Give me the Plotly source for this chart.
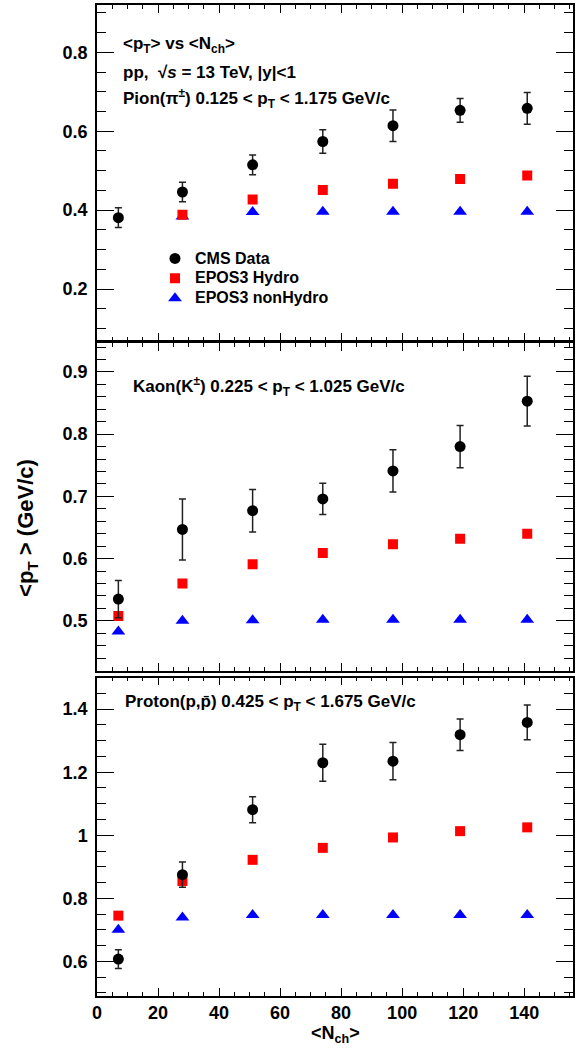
import plotly.graph_objects as go

# <Nch> bins
nch = [7, 28, 51, 74, 97, 119, 141]

# Pions
pion_cms = [0.381, 0.446, 0.515, 0.574, 0.614, 0.653, 0.658]
pion_cms_err = [0.025, 0.025, 0.025, 0.030, 0.040, 0.030, 0.040]
pion_hydro = [None, 0.388, 0.427, 0.451, 0.467, 0.479, 0.488]
pion_nonhydro = [None, 0.384, 0.395, 0.396, 0.396, 0.396, 0.396]

# Kaons
kaon_cms = [0.535, 0.647, 0.677, 0.696, 0.741, 0.780, 0.853]
kaon_cms_err = [0.030, 0.049, 0.034, 0.025, 0.034, 0.034, 0.040]
kaon_hydro = [0.508, 0.560, 0.591, 0.609, 0.623, 0.632, 0.640]
kaon_nonhydro = [0.483, 0.500, 0.501, 0.502, 0.502, 0.502, 0.502]

# Protons
proton_cms = [0.607, 0.875, 1.081, 1.230, 1.235, 1.319, 1.358]
proton_cms_err = [0.030, 0.040, 0.041, 0.059, 0.059, 0.050, 0.055]
proton_hydro = [0.745, 0.855, 0.922, 0.960, 0.993, 1.013, 1.025]
proton_nonhydro = [0.700, 0.739, 0.747, 0.747, 0.747, 0.747, 0.747]

series_names = ["CMS Data", "EPOS3 Hydro", "EPOS3 nonHydro"]

W, H = 583, 1055
ML, MR, MT, MB = 97, 10, 3, 59
PW = W - ML - MR
PH = H - MT - MB


def fx(px):
    return (px - ML) / PW


def fy(py):
    return (H - MB - py) / PH


def legend_label(name):
    # larger glyphs than the legend's own row spacing font
    return "<span style='font-size:16px'>" + name + "</span>"


FONT = "Liberation Sans, Arial, Helvetica, sans-serif"

fig = go.Figure()

panels = [
    (pion_cms, pion_cms_err, pion_hydro, pion_nonhydro, "x", "y"),
    (kaon_cms, kaon_cms_err, kaon_hydro, kaon_nonhydro, "x2", "y2"),
    (proton_cms, proton_cms_err, proton_hydro, proton_nonhydro, "x3", "y3"),
]

for i, (cms, err, hyd, nonh, xa, ya) in enumerate(panels):
    show = i == 0
    fig.add_trace(go.Scatter(
        x=nch, y=nonh, mode="markers", name=legend_label(series_names[2]),
        marker=dict(symbol="triangle-up", size=12, color="#0000ff"),
        xaxis=xa, yaxis=ya, showlegend=show, legendrank=3))
    fig.add_trace(go.Scatter(
        x=nch, y=hyd, mode="markers", name=legend_label(series_names[1]),
        marker=dict(symbol="square", size=10, color="#ff0000"),
        xaxis=xa, yaxis=ya, showlegend=show, legendrank=2))
    fig.add_trace(go.Scatter(
        x=nch, y=cms, mode="markers", name=legend_label(series_names[0]),
        marker=dict(symbol="circle", size=11, color="black"),
        error_y=dict(type="data", array=err, visible=True, color="#222222",
                     thickness=1.5, width=3.5),
        xaxis=xa, yaxis=ya, showlegend=show, legendrank=1))

tickfont = dict(family=FONT, size=18, color="black", weight="bold")

xcommon = dict(range=[0, 156], dtick=20, ticks="inside", ticklen=8, tickwidth=1,
               tickcolor="black", showline=True, linecolor="black", linewidth=1.5,
               mirror="ticks", showgrid=False, zeroline=False, tickfont=tickfont,
               minor=dict(dtick=5, ticks="inside", ticklen=4, tickcolor="black",
                          tickwidth=1, showgrid=False))

ycommon = dict(ticks="inside", ticklen=17, tickwidth=1, tickcolor="black",
               showline=True, linecolor="black", linewidth=1.5, mirror="ticks",
               showgrid=False, zeroline=False, tickfont=tickfont,
               ticklabelstandoff=4)

dom1 = [fy(339), 1.0]
dom2 = [fy(670), fy(342)]
dom3 = [0.0, fy(677)]

fig.update_layout(
    width=W, height=H,
    margin=dict(l=ML, r=MR, t=MT, b=MB),
    paper_bgcolor="white", plot_bgcolor="white",
    font=dict(family=FONT, color="black"),
    xaxis=dict(xcommon, anchor="y", showticklabels=False),
    xaxis2=dict(xcommon, anchor="y2", showticklabels=False, matches="x"),
    xaxis3=dict(xcommon, anchor="y3", matches="x"),
    yaxis=dict(ycommon, domain=dom1, range=[0.07, 0.92], dtick=0.2, anchor="x",
               minor=dict(dtick=0.05, ticks="inside", ticklen=9, tickcolor="black",
                          tickwidth=1, showgrid=False)),
    yaxis2=dict(ycommon, domain=dom2, range=[0.42, 0.946], dtick=0.1, anchor="x2",
                minor=dict(dtick=0.02, ticks="inside", ticklen=9, tickcolor="black",
                           tickwidth=1, showgrid=False)),
    yaxis3=dict(ycommon, domain=dom3, range=[0.49, 1.5], dtick=0.2, anchor="x3",
                minor=dict(dtick=0.05, ticks="inside", ticklen=9, tickcolor="black",
                           tickwidth=1, showgrid=False)),
    legend=dict(x=fx(155), y=fy(242), xanchor="left", yanchor="top",
                bgcolor="rgba(0,0,0,0)", borderwidth=0, tracegroupgap=0,
                font=dict(family=FONT, size=13, color="black", weight="bold")),
)

afont = dict(family=FONT, size=17, color="black", weight="bold")
texts = [
    ("&lt;p<sub>T</sub>&gt; vs &lt;N<sub>ch</sub>&gt;", 121, 43),
    ("pp,  √<i>s</i> = 13 TeV, |y|&lt;1", 121, 71),
    ("Pion(π<sup>±</sup>) 0.125 &lt; p<sub>T</sub> &lt; 1.175 GeV/c", 121, 97),
    ("Kaon(K<sup>±</sup>) 0.225 &lt; p<sub>T</sub> &lt; 1.025 GeV/c", 131, 385),
    ("Proton(p,p\u0304) 0.425 &lt; p<sub>T</sub> &lt; 1.675 GeV/c", 123, 702),
]
for t, px, py in texts:
    fig.add_annotation(text=t, x=fx(px), y=fy(py), xref="paper", yref="paper",
                       xanchor="left", yanchor="middle", showarrow=False, font=afont)

fig.add_annotation(text="&lt;p<sub>T</sub> &gt; (GeV/c)", x=fx(27), y=fy(527),
                   xref="paper", yref="paper", textangle=-90, showarrow=False,
                   xanchor="center", yanchor="middle",
                   font=dict(family=FONT, size=22, color="black", weight="bold"))
fig.add_annotation(text="&lt;N<sub>ch</sub>&gt;", x=fx(335), y=fy(1035),
                   xref="paper", yref="paper", showarrow=False,
                   xanchor="center", yanchor="middle",
                   font=dict(family=FONT, size=18, color="black", weight="bold"))

fig.write_html("out.html")
